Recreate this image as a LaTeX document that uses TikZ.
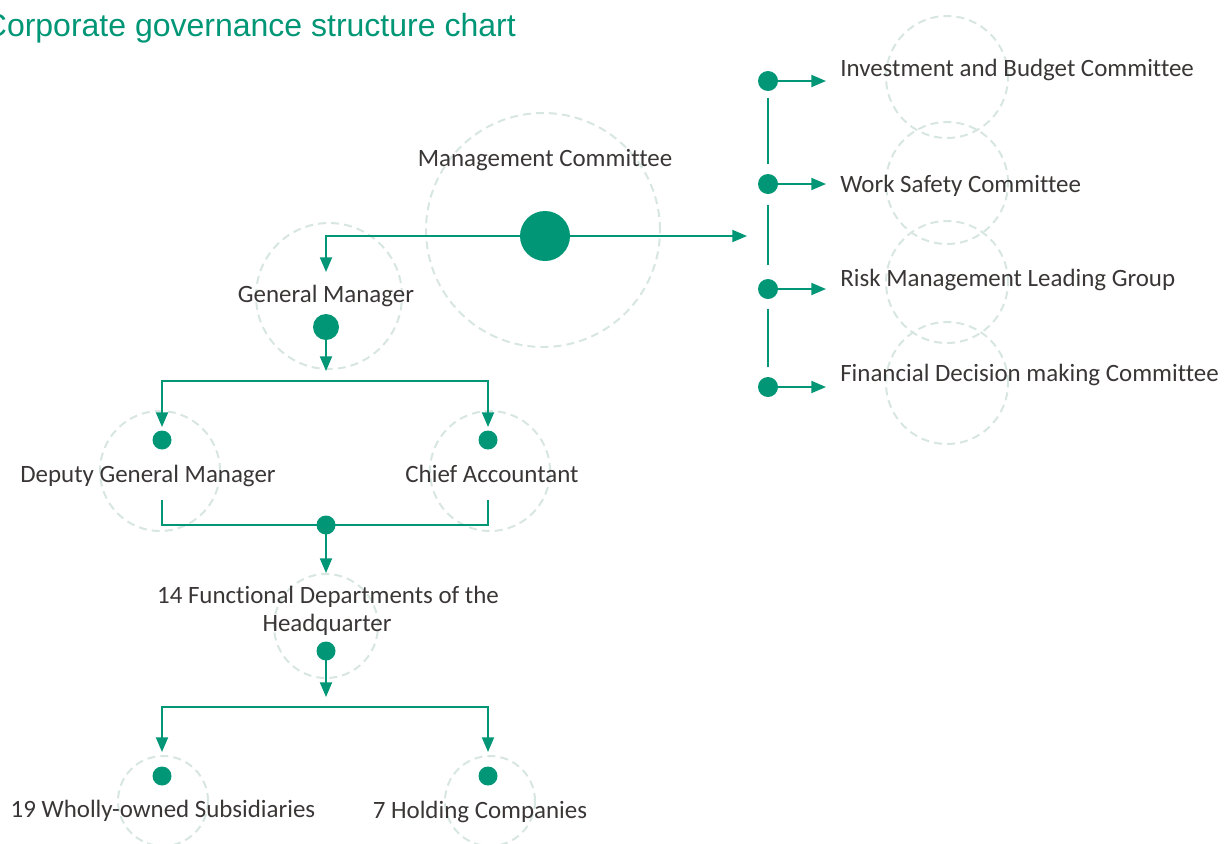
\documentclass[tikz,border=0pt]{standalone}
\usepackage{fontspec}
\setmainfont{Carlito}[Ligatures=NoCommon]
\newfontfamily\titlefont{Liberation Sans}
\usetikzlibrary{arrows.meta}
\definecolor{brand}{RGB}{0,150,118}
\definecolor{ringc}{RGB}{216,230,225}
\definecolor{ink}{RGB}{58,54,54}
\begin{document}
\begin{tikzpicture}[x=0.75pt,y=-0.75pt,
  ring/.style={circle,draw=ringc,line width=1.5pt,dash pattern=on 6pt off 3.8pt,inner sep=0pt},
  dot/.style={circle,fill=brand,inner sep=0pt},
  lbl/.style={text=ink,inner sep=0pt,font=\fontsize{18.7}{22}\selectfont},
  link/.style={draw=brand,line width=1.4pt},
  arr/.style={link,-{Triangle[length=11pt,width=9pt]}}]
\useasboundingbox (0,0) rectangle (1226,843);

% title
\node[anchor=base east,inner sep=0pt,text=brand,font=\titlefont\fontsize{24}{28}\selectfont]
  (title) at (516,36) {Corporate governance structure chart};

% dashed background rings
\node[ring,minimum size=175.5pt] (mcR) at (543,230) {};
\node[ring,minimum size=109.5pt] (gmR) at (329,296) {};
\node[ring,minimum size=90pt] (dgmR) at (160,471) {};
\node[ring,minimum size=90pt] (caR) at (490,471) {};
\node[ring,minimum size=78pt] (fdR) at (326,626) {};
\node[ring,minimum size=67.5pt] (wosR) at (163,801) {};
\node[ring,minimum size=67.5pt] (hcR) at (490,801) {};
\node[ring,minimum size=91.5pt] (c1R) at (947,77) {};
\node[ring,minimum size=91.5pt] (c2R) at (947,183) {};
\node[ring,minimum size=91.5pt] (c3R) at (947,282) {};
\node[ring,minimum size=91.5pt] (c4R) at (947,383) {};

% connector end points
\coordinate (mcC) at (545,236);
\coordinate (gmC) at (326,327);
\coordinate (jnC) at (326,525);
\coordinate (fdC) at (326,651);
\coordinate (gmIn) at (326,272);
\coordinate (right) at (747,236);
\coordinate (gmOut) at (326,371);
\coordinate (bar1) at (326,381);
\coordinate (dgmIn) at (162,427);
\coordinate (caIn) at (488,427);
\coordinate (dgmOut) at (162,500);
\coordinate (caOut) at (488,500);
\coordinate (fdIn) at (326,573);
\coordinate (fdOut) at (326,697);
\coordinate (bar2) at (326,707);
\coordinate (wosIn) at (162,752);
\coordinate (hcIn) at (488,752);
\coordinate (c1C) at (768,81);
\coordinate (c2C) at (768,184);
\coordinate (c3C) at (768,289);
\coordinate (c4C) at (768,387);
\coordinate (c1a) at (826,81);
\coordinate (c2a) at (826,184);
\coordinate (c3a) at (826,289);
\coordinate (c4a) at (826,387);

% connectors
\draw[arr] (mcC) -| (gmIn);
\draw[arr] (mcC) -- (right);
\draw[arr] (gmC) -- (gmOut);
\draw[arr] (bar1) -| (dgmIn);
\draw[arr] (bar1) -| (caIn);
\draw[link] (dgmOut) |- (jnC) -| (caOut);
\draw[arr] (jnC) -- (fdIn);
\draw[arr] (fdC) -- (fdOut);
\draw[arr] (bar2) -| (wosIn);
\draw[arr] (bar2) -| (hcIn);
\foreach \i in {1,2,3,4}{\draw[arr] (c\i C) -- (c\i a);}

% dots
\node[dot,minimum size=37.5pt] (mc) at (mcC) {};
\node[dot,minimum size=19.5pt] (gm) at (gmC) {};
\node[dot,minimum size=14.25pt] (dgm) at (162,440) {};
\node[dot,minimum size=14.25pt] (ca) at (488,440) {};
\node[dot,minimum size=14.25pt] (jn) at (jnC) {};
\node[dot,minimum size=14.25pt] (fd) at (fdC) {};
\node[dot,minimum size=14.25pt] (wos) at (162,776) {};
\node[dot,minimum size=14.25pt] (hc) at (488,776) {};
\node[dot,minimum size=15pt] (c1) at (c1C) {};
\node[dot,minimum size=15pt] (c2) at (c2C) {};
\node[dot,minimum size=15pt] (c3) at (c3C) {};
\node[dot,minimum size=15pt] (c4) at (c4C) {};

% spine between the committee dots
\draw[link,shorten <=5pt,shorten >=7pt] (c1) -- (c2);
\draw[link,shorten <=8pt,shorten >=10pt] (c2) -- (c3);
\draw[link,shorten <=7pt,shorten >=7pt] (c3) -- (c4);

% labels
\node[lbl,anchor=base] (mcL) at (545,166) {Management Committee};
\node[lbl,anchor=base] (gmL) at (326,302) {General Manager};
\node[lbl,anchor=base] (dgmL) at (148,482) {Deputy General Manager};
\node[lbl,anchor=base] (caL) at (492,482) {Chief Accountant};
\node[lbl,anchor=base] (fdL1) at (328,603) {14 Functional Departments of the};
\node[lbl,anchor=base] (fdL2) at (327,631) {Headquarter};
\node[lbl,anchor=base] (wosL) at (163,817) {19 Wholly-owned Subsidiaries};
\node[lbl,anchor=base] (hcL) at (480,818) {7 Holding Companies};
\node[lbl,anchor=base west] (c1L) at (840,76) {Investment and Budget Committee};
\node[lbl,anchor=base west] (c2L) at (840,192) {Work Safety Committee};
\node[lbl,anchor=base west] (c3L) at (840,286) {Risk Management Leading Group};
\node[lbl,anchor=base west] (c4L) at (840,381) {Financial Decision making Committee};
\end{tikzpicture}
\end{document}
